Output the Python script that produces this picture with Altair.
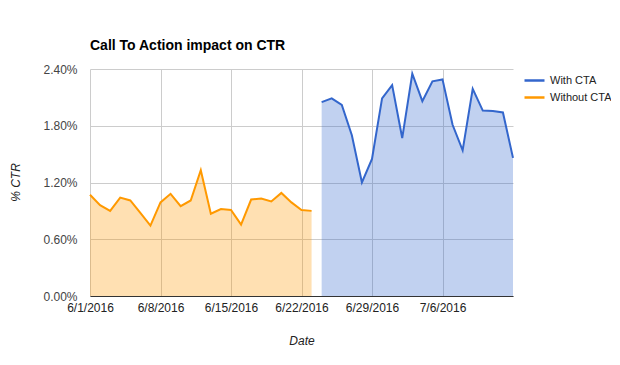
import altair as alt
import pandas as pd

# ---- data ----
without_dates = [f"2016/06/{d:02d}" for d in range(1, 24)]
without_cta = [1.07, 0.96, 0.90, 1.04, 1.01, 0.88, 0.745, 0.99, 1.08, 0.95, 1.01, 1.33,
               0.87, 0.92, 0.91, 0.755, 1.02, 1.03, 1.00, 1.09, 0.99, 0.91, 0.90]

with_dates = [f"2016/06/{d:02d}" for d in range(24, 31)] + [f"2016/07/{d:02d}" for d in range(1, 14)]
with_cta = [2.05, 2.09, 2.02, 1.70, 1.20, 1.45, 2.09, 2.23, 1.67, 2.35, 2.06, 2.27,
            2.29, 1.81, 1.54, 2.19, 1.96, 1.955, 1.94, 1.46]

series_names = ["With CTA", "Without CTA"]
series_colors = ["#3366cc", "#ff9900"]
y_ticks = [0, 0.6, 1.2, 1.8, 2.4]
x_tick_days = [(6, 1), (6, 8), (6, 15), (6, 22), (6, 29), (7, 6)]

df = pd.concat([
    pd.DataFrame({"date": with_dates, "ctr": with_cta, "series": "With CTA"}),
    pd.DataFrame({"date": without_dates, "ctr": without_cta, "series": "Without CTA"}),
])

FONT = "Liberation Sans"

x = alt.X(
    "date:T",
    scale=alt.Scale(domain=[alt.DateTime(year=2016, month=6, date=1),
                            alt.DateTime(year=2016, month=7, date=13)]),
    axis=alt.Axis(
        title="Date",
        values=[alt.DateTime(year=2016, month=m, date=d) for m, d in x_tick_days],
        format="%-m/%-d/%Y",
        ticks=False,
        labelFlush=False,
        labelOverlap=False,
        labelPadding=6,
        labelFontSize=12,
        labelColor="#222222",
        labelFont=FONT,
        domainColor="#333333",
        gridColor="#cccccc",
        titleFont=FONT,
        titleFontSize=12,
        titleFontStyle="italic",
        titleFontWeight="normal",
        titleColor="#222222",
        titleY=44,
        titleBaseline="middle",
    ),
)

y = alt.Y(
    "ctr:Q",
    stack=None,
    scale=alt.Scale(domain=[0, 2.4]),
    axis=alt.Axis(
        title="% CTR",
        values=y_ticks,
        labelExpr="format(datum.value, '.2f') + '%'",
        ticks=False,
        domain=False,
        labelPadding=13,
        labelFontSize=12,
        labelColor="#444444",
        labelFont=FONT,
        gridColor="#cccccc",
        titleFont=FONT,
        titleFontSize=12,
        titleFontStyle="italic",
        titleFontWeight="normal",
        titleColor="#222222",
        titleX=-75,
        titleY=113,
        titleAngle=-90,
        titleAlign="center",
        titleBaseline="middle",
    ),
)

color = alt.Color(
    "series:N",
    scale=alt.Scale(domain=series_names, range=series_colors),
    legend=alt.Legend(
        title=None,
        orient="none",
        legendX=433,
        legendY=0,
        symbolType="stroke",
        symbolStrokeWidth=2.5,
        symbolOpacity=1,
        symbolSize=400,
        labelFont=FONT,
        labelFontSize=11,
        labelColor="#222222",
        labelOffset=4,
        rowPadding=0,
    ),
)

base = alt.Chart(df)
area = base.mark_area(opacity=0.3).encode(x=x, y=y, color=color, detail="series:N")
line = base.mark_line(strokeWidth=2).encode(x=x, y=y, color=color, detail="series:N")

chart = alt.layer(area, line).properties(
    width=423,
    height=227,
    autosize=alt.AutoSizeParams(type="none"),
    padding={"left": 82, "top": 61, "right": 98, "bottom": 55},
    title=alt.TitleParams(
        "Call To Action impact on CTR",
        anchor="start",
        frame="group",
        font=FONT,
        fontSize=14,
        fontWeight="bold",
        color="#000000",
        baseline="alphabetic",
        offset=20,
        dy=21,
    ),
).configure_view(stroke=None)

chart.save("out.html", embed_options={"renderer": "svg", "actions": False})
